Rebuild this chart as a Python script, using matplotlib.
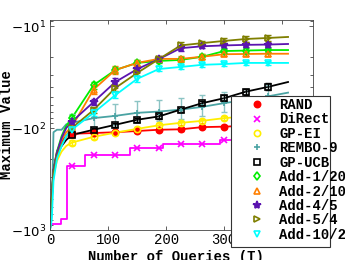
import numpy as np
import matplotlib
matplotlib.use("Agg")
import matplotlib.pyplot as plt
from matplotlib.lines import Line2D
from matplotlib.patches import Rectangle
from matplotlib.ticker import FixedLocator, LogLocator, NullFormatter

# ---------------- data (maximum value, plotted as -|v|) ----------------
queries = [0, 3, 6, 12, 20, 28, 37.5, 75, 112.5, 150, 187.5, 225, 262.5, 300, 337.5, 375, 410]
marker_idx = list(range(6, 16))  # markers at 37.5, 75, ..., 375

rand_v   = [1000, 480, 250, 170, 135, 120, 114, 112, 110, 107, 104, 103, 98, 97, 95, 94, 93]
gpei_v   = [1000, 520, 290, 210, 170, 150, 139, 122, 111, 102, 94, 89, 85, 80, 77, 74, 71]
rembo_v  = [1000, 700, 110, 104, 104, 92, 89, 80, 76, 71, 69, 66, 62, 57, 53, 49, 45]
gpucb_v  = [1000, 500, 260, 180, 150, 131, 117, 104, 93, 83, 77, 66, 57, 51, 44, 39.6, 35.4]
add1_v   = [1000, 500, 260, 170, 120, 95, 80, 38, 27, 23, 22, 21.5, 20, 17.6, 17.4, 17.2, 17.2]
add2_v   = [1000, 500, 270, 180, 130, 110, 97.5, 42, 27, 23, 21, 21, 20, 18.9, 18.8, 18.7, 18.7]
add4_v   = [1000, 480, 260, 175, 125, 100, 87, 55.6, 35.4, 26.5, 21.1, 16.5, 15.8, 15.5, 15.3, 15.2, 15.0]
add5_v   = [1000, 520, 280, 190, 145, 120, 100, 66.6, 40.5, 28.9, 21.1, 15.5, 14.7, 14.0, 13.4, 13.1, 12.8]
add10_v  = [1000, 800, 330, 200, 150, 120, 104, 71, 47.6, 33, 26.4, 25.2, 24, 23.6, 23, 23, 23]

# DiRect is a staircase
direct_q = [0, 19, 29, 60, 138, 195, 293, 380, 410]
direct_v = [873, 778, 236, 184, 158, 143, 131, 126, 126]
direct_mq = [37.5, 75, 112.5, 150, 187.5, 225, 262.5, 300, 337.5, 375]
direct_mv = [236, 184, 184, 158, 158, 143, 143, 131, 131, 126]

# error-bar half widths at marker positions
rand_e  = [4, 4, 4, 3, 3, 3, 3, 3, 3, 3]
gpei_e  = [8, 6, 5, 5, 4, 4, 4, 4, 4, 4]
rembo_e = [16, 17, 18, 17, 16, 15, 14, 13, 12, 11]
gpucb_e = [5, 5, 4, 4, 4, 3, 3, 3, 3, 3]
add1_e  = [6, 3, 2, 1.5, 1.2, 1.2, 1.0, 0.8, 0.8, 0.8]
add2_e  = [7, 4, 2.5, 1.5, 1.2, 1.2, 1.0, 0.8, 0.8, 0.8]
add4_e  = [7, 4, 3, 2, 1.2, 1.0, 0.8, 0.8, 0.8, 0.8]
add5_e  = [7, 5, 3, 2, 1.2, 1.0, 0.8, 0.8, 0.8, 0.8]
add10_e = [7, 5, 3, 2, 1.5, 1.2, 1.0, 1.0, 1.0, 1.0]

labels = ["RAND", "DiRect", "GP-EI", "REMBO-9", "GP-UCB",
          "Add-1/20", "Add-2/10", "Add-4/5", "Add-5/4", "Add-10/2"]
colors = ["#ff0000", "#ff00ff", "#ffee00", "#4aa3a3", "#000000",
          "#00ee00", "#ff7f00", "#5b14b0", "#7f7f00", "#00ffff"]
markers = ["o", "x", "o", "+", "s", "d", "^", "*", ">", "v"]
filled = [True, True, False, True, False, False, False, True, False, False]

xticks = [0, 100, 200, 300, 400]
yticks = [10, 100, 1000]
ytick_labels = [r"$-10^{1}$", r"$-10^{2}$", r"$-10^{3}$"]

# ---------------- figure ----------------
fig = plt.figure(figsize=(3.45, 2.6), dpi=100)
ax = fig.add_axes([50/345, 1-230/260, 263/345, 210/260])
ax.set_yscale("log")

q = np.array(queries, dtype=float)
series = [(rand_v, rand_e), None, (gpei_v, gpei_e), (rembo_v, rembo_e), (gpucb_v, gpucb_e),
          (add1_v, add1_e), (add2_v, add2_e), (add4_v, add4_e), (add5_v, add5_e), (add10_v, add10_e)]

mk_q = q[marker_idx]
for i, s in enumerate(series):
    c = colors[i]
    mfc = c if filled[i] else "none"
    ms = 6 if markers[i] == "*" else 4.5
    if s is None:
        ax.plot(direct_q, direct_v, color=c, lw=1.3, drawstyle="steps-post", zorder=2)
        ax.plot(direct_mq, direct_mv, ls="none", marker=markers[i], color=c, ms=4, mew=1.2, zorder=3)
        continue
    v, e = s
    v = np.array(v, dtype=float)
    ax.plot(q, v, color=c, lw=1.3, zorder=2)
    ecol = c if i != 3 else "#8cc4c4"
    ax.errorbar(mk_q, v[marker_idx], yerr=e, fmt="none", ecolor=ecol, elinewidth=1.0,
                capsize=2, capthick=1.0, zorder=2.5)
    ax.plot(mk_q, v[marker_idx], ls="none", marker=markers[i], color=c, mfc=mfc,
            ms=ms, mew=1.2, zorder=3)

ax.set_xlim(0, 453)
ax.set_ylim(1000, 10**0.941)

ax.xaxis.set_major_locator(FixedLocator(xticks))
ax.yaxis.set_major_locator(FixedLocator(yticks))
ax.set_yticklabels(ytick_labels)
ax.yaxis.set_minor_locator(LogLocator(base=10, subs=np.arange(2, 10)))
ax.yaxis.set_minor_formatter(NullFormatter())
ax.tick_params(which="both", direction="in", top=True, right=True, length=3, width=0.6, color="#444444")
ax.tick_params(which="minor", length=2)
ax.tick_params(axis="y", labelsize=9.5, pad=3)
ax.tick_params(axis="x", labelsize=10, pad=2)
for lab in ax.get_xticklabels():
    lab.set_family("Liberation Mono")
for sp in ax.spines.values():
    sp.set_linewidth(0.6)
    sp.set_color("#444444")

ax.set_xlabel("Number of Queries (T)", family="Liberation Mono", fontweight="bold",
              fontsize=10)
ax.xaxis.set_label_coords(0.48, -20/210, transform=ax.transAxes)
ax.set_ylabel("Maximum Value", family="Liberation Mono", fontweight="bold",
              fontsize=10)
ax.yaxis.set_label_coords(-36/263, 0.5, transform=ax.transAxes)

# legend frame (narrower than text, as in reference)
rect = Rectangle((231/345, 1-247/260), 99/345, 151/260, transform=fig.transFigure,
                 facecolor="white", edgecolor="#333333", lw=0.8, clip_on=False, zorder=4.5)
ax.add_patch(rect)
handles = []
for i in range(len(labels)):
    mfc = colors[i] if filled[i] else "none"
    ms = 6 if markers[i] == "*" else 4.5
    handles.append(Line2D([], [], ls="none", marker=markers[i], color=colors[i], mfc=mfc,
                          ms=ms, mew=1.2))
leg = ax.legend(handles, labels, loc="upper left", bbox_to_anchor=(250/345, 1-98/260),
                bbox_transform=fig.transFigure, frameon=False, handlelength=1.0,
                handletextpad=1.1, labelspacing=0.03, borderpad=0.0, borderaxespad=0,
                prop={"family": "Liberation Mono", "weight": "bold", "size": 10})
leg.set_zorder(5)

fig.savefig("out.png", dpi=100)
